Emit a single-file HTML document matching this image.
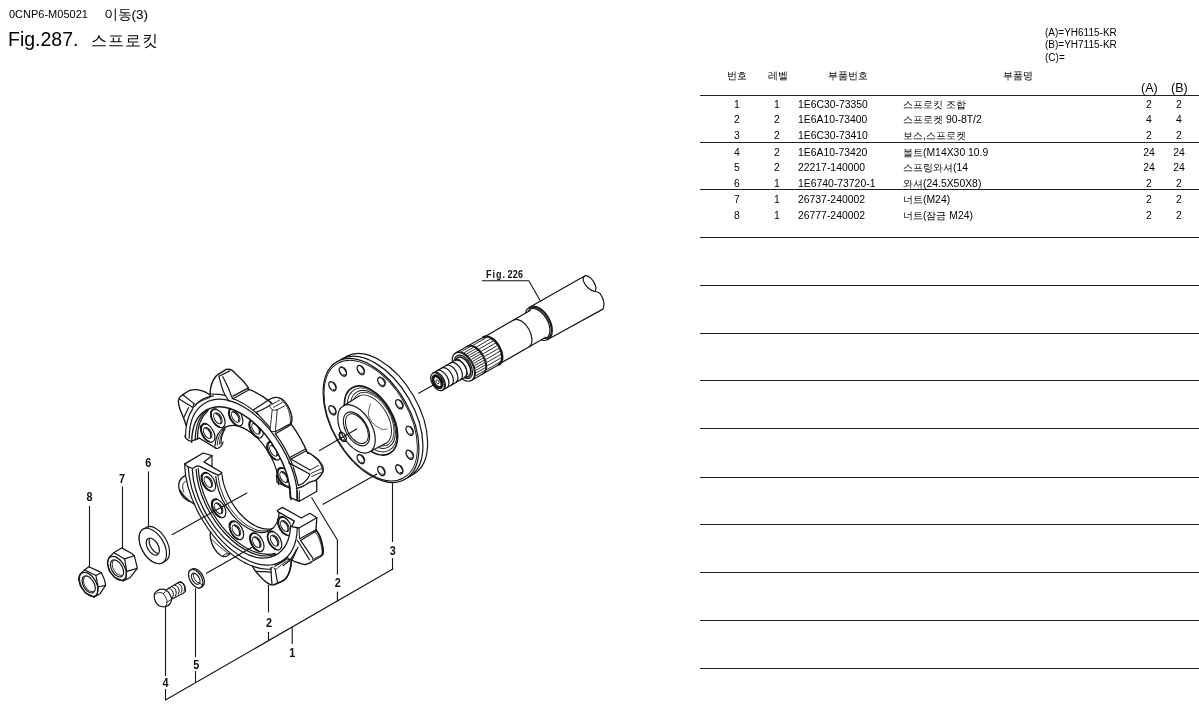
<!DOCTYPE html>
<html lang="ko">
<head>
<meta charset="utf-8">
<title>Fig.287. 스프로킷</title>
<style>
html,body{margin:0;padding:0;background:#fff;}
body{width:1199px;height:710px;position:relative;overflow:hidden;font-family:"Liberation Sans",sans-serif;color:#000;}
.t{position:absolute;white-space:nowrap;line-height:1;}
.hd{font-size:11px;}
.ln{position:absolute;left:700px;width:499px;height:1px;background:#222;}
.r{position:absolute;left:700px;width:499px;height:12px;font-size:10.4px;line-height:12px;}
.r span{position:absolute;top:0;white-space:nowrap;}
.c1{left:27px;width:20px;text-align:center;}
.c2{left:67px;width:20px;text-align:center;}
.c3{left:98px;}
.c4{left:203px;}
.c5{left:434px;width:30px;text-align:center;}
.c6{left:464px;width:30px;text-align:center;}
#dg{position:absolute;left:0;top:0;}
#wrap{position:absolute;left:0;top:0;width:1199px;height:710px;will-change:transform;opacity:0.999;}
</style>
</head>
<body>
<div id="wrap">
<div class="t hd" style="left:9px;top:9px;">0CNP6-M05021</div>
<div class="t" style="left:103.5px;top:7.5px;font-size:13.6px;">이동(3)</div>
<div class="t" style="left:8px;top:30px;font-size:19.5px;">Fig.287.</div>
<div class="t" style="left:91px;top:31.5px;font-size:16.4px;letter-spacing:1.1px;">스프로킷</div>

<div class="t" style="left:1045px;top:28px;font-size:10px;">(A)=YH6115-KR</div>
<div class="t" style="left:1045px;top:40px;font-size:10px;">(B)=YH7115-KR</div>
<div class="t" style="left:1045px;top:53px;font-size:10px;">(C)=</div>

<div class="t" style="left:727px;top:71px;font-size:10px;">번호</div>
<div class="t" style="left:768px;top:71px;font-size:10px;">레벨</div>
<div class="t" style="left:828px;top:71px;font-size:10px;">부품번호</div>
<div class="t" style="left:1003px;top:71px;font-size:10px;">부품명</div>
<div class="t" style="left:1141px;top:82px;font-size:12.5px;">(A)</div>
<div class="t" style="left:1171px;top:82px;font-size:12.5px;">(B)</div>

<div class="ln" style="top:95px;"></div>
<div class="ln" style="top:142px;"></div>
<div class="ln" style="top:189px;"></div>
<div class="ln" style="top:237px;"></div>
<div class="ln" style="top:285px;"></div>
<div class="ln" style="top:333px;"></div>
<div class="ln" style="top:380px;"></div>
<div class="ln" style="top:428px;"></div>
<div class="ln" style="top:477px;"></div>
<div class="ln" style="top:524px;"></div>
<div class="ln" style="top:572px;"></div>
<div class="ln" style="top:620px;"></div>
<div class="ln" style="top:668px;"></div>

<div class="r" style="top:98.7px;"><span class="c1">1</span><span class="c2">1</span><span class="c3">1E6C30-73350</span><span class="c4">스프로킷 조합</span><span class="c5">2</span><span class="c6">2</span></div>
<div class="r" style="top:113.7px;"><span class="c1">2</span><span class="c2">2</span><span class="c3">1E6A10-73400</span><span class="c4">스프로켓 90-8T/2</span><span class="c5">4</span><span class="c6">4</span></div>
<div class="r" style="top:129.7px;"><span class="c1">3</span><span class="c2">2</span><span class="c3">1E6C30-73410</span><span class="c4">보스,스프로켓</span><span class="c5">2</span><span class="c6">2</span></div>
<div class="r" style="top:146.7px;"><span class="c1">4</span><span class="c2">2</span><span class="c3">1E6A10-73420</span><span class="c4">볼트(M14X30 10.9</span><span class="c5">24</span><span class="c6">24</span></div>
<div class="r" style="top:161.7px;"><span class="c1">5</span><span class="c2">2</span><span class="c3">22217-140000</span><span class="c4">스프링와셔(14</span><span class="c5">24</span><span class="c6">24</span></div>
<div class="r" style="top:177.7px;"><span class="c1">6</span><span class="c2">1</span><span class="c3">1E6740-73720-1</span><span class="c4">와셔(24.5X50X8)</span><span class="c5">2</span><span class="c6">2</span></div>
<div class="r" style="top:193.7px;"><span class="c1">7</span><span class="c2">1</span><span class="c3">26737-240002</span><span class="c4">너트(M24)</span><span class="c5">2</span><span class="c6">2</span></div>
<div class="r" style="top:209.7px;"><span class="c1">8</span><span class="c2">1</span><span class="c3">26777-240002</span><span class="c4">너트(잠금 M24)</span><span class="c5">2</span><span class="c6">2</span></div>

<svg id="dg" width="700" height="710" viewBox="0 0 700 710" fill="none" stroke="#151515" stroke-width="1.2" stroke-linecap="round" stroke-linejoin="round">
<!--DIAGRAM-->
<path d="M585.5 275.6 L528.7 307.8 A18.5 10.7 60 0 0 547.2 339.8 L602.9 309.1 C604.5 306.5 605 300 600.3 293.8 C598 292 596 291.5 595 291.5 C592 291 586 288 583.4 281.1 C582.5 278.5 584 276 585.5 275.6Z" fill="#fff"/>
<path d="M585.5 275.6 C589 275.5 594 280 595.8 286.4 C596.2 288.5 595.8 290.5 595 291.5"/>
<path d="M548.9 338.8 A18.5 10.7 60 0 0 530.4 306.8"/>
<path d="M546.4 338.9 A17.5 10.1 60 1 0 529.1 308.9"/>
<path d="M544.1 338.6 A16.5 9.5 60 1 0 528.2 311"/>
<path d="M530.2 310.4 L483.4 337.4 A15.5 8.9 60 0 0 498.9 364.2 L545.7 337.2 A15.5 8.9 60 0 0 530.2 310.4Z" fill="#fff" stroke="none"/>
<path d="M483.4 337.4 L530.2 310.4"/>
<path d="M498.9 364.2 L545.7 337.2"/>
<path d="M529.2 346.7 A15.5 8.9 60 0 0 513.7 319.9"/>
<path d="M483.7 336.9 L455.5 353.1 A15.8 9.1 60 0 0 471.3 380.5 L499.5 364.2 A15.8 9.1 60 0 0 483.7 336.9Z" fill="#fff" stroke="none"/>
<path d="M455.5 353.1 L483.7 336.9"/>
<path d="M471.3 380.5 L499.5 364.2"/>
<path d="M499 364.4 A15.7 9.1 60 0 0 483.3 337.2" stroke-width="2.4"/>
<path d="M483.9 373.2 A15.8 9.1 60 0 0 468.1 345.9"/>
<path d="M482.6 374 A15.8 9.1 60 0 0 466.8 346.6"/>
<path d="M472.6 379.7 A15.8 9.1 60 0 0 456.8 352.4"/>
<path d="M473.4 345.1 L487.2 337.1" stroke-width="0.9"/>
<path d="M476.9 346.7 L490.8 338.7" stroke-width="0.9"/>
<path d="M479.6 348.7 L493.4 340.7" stroke-width="0.9"/>
<path d="M481.8 351 L495.6 343" stroke-width="0.9"/>
<path d="M483.6 353.5 L497.5 345.5" stroke-width="0.9"/>
<path d="M485.1 356.2 L499 348.2" stroke-width="0.9"/>
<path d="M486.4 359.1 L500.2 351.1" stroke-width="0.9"/>
<path d="M487.2 362.2 L501.1 354.2" stroke-width="0.9"/>
<path d="M487.6 365.6 L501.5 357.6" stroke-width="0.9"/>
<path d="M487.1 369.5 L500.9 361.5" stroke-width="0.9"/>
<path d="M461.5 351.5 L470.6 346.3" stroke-width="0.9"/>
<path d="M464.5 352.5 L473.6 347.3" stroke-width="0.9"/>
<path d="M466.7 353.9 L475.8 348.7" stroke-width="0.9"/>
<path d="M468.6 355.5 L477.7 350.3" stroke-width="0.9"/>
<path d="M470.3 357.3 L479.4 352" stroke-width="0.9"/>
<path d="M471.8 359.2 L480.9 353.9" stroke-width="0.9"/>
<path d="M473 361.2 L482.1 355.9" stroke-width="0.9"/>
<path d="M474.1 363.2 L483.2 358" stroke-width="0.9"/>
<path d="M475 365.4 L484.1 360.2" stroke-width="0.9"/>
<path d="M475.7 367.7 L484.8 362.5" stroke-width="0.9"/>
<path d="M476.2 370.2 L485.3 364.9" stroke-width="0.9"/>
<path d="M476.3 372.8 L485.4 367.6" stroke-width="0.9"/>
<path d="M475.8 375.8 L484.9 370.6" stroke-width="0.9"/>
<ellipse cx="463.4" cy="366.8" rx="15.8" ry="9.1" transform="rotate(60 463.4 366.8)" fill="#fff"/>
<ellipse cx="463.4" cy="366.8" rx="12.8" ry="7.4" transform="rotate(60 463.4 366.8)"/>
<ellipse cx="463" cy="367.1" rx="11" ry="6.4" transform="rotate(60 463 367.1)" stroke-width="1.6"/>
<path d="M459.1 359.4 L453.1 362.9 A8.6 5 60 0 0 461.7 377.7 L467.7 374.2 A8.6 5 60 0 0 459.1 359.4Z" fill="#fff" stroke="none"/>
<path d="M453.1 362.9 L459.1 359.4"/>
<path d="M461.7 377.7 L467.7 374.2"/>
<path d="M455.1 360.3 L432.7 373.2 A9.8 5.7 60 0 0 442.5 390.2 L464.9 377.3 A9.8 5.7 60 0 0 455.1 360.3Z" fill="#fff" stroke="none"/>
<path d="M432.7 373.2 L455.1 360.3"/>
<path d="M442.5 390.2 L464.9 377.3"/>
<path d="M464.9 377.3 A9.8 5.7 60 0 0 455.1 360.3"/>
<path d="M446.9 387.7 A9.8 5.7 60 0 0 437.1 370.7" stroke-width="1.2"/>
<path d="M451.4 385.1 A9.8 5.7 60 0 0 441.6 368.1" stroke-width="1.2"/>
<path d="M455.9 382.5 A9.8 5.7 60 0 0 446.1 365.5" stroke-width="1.2"/>
<path d="M460.4 379.9 A9.8 5.7 60 0 0 450.6 362.9" stroke-width="1.2"/>
<path d="M464.9 377.3 A9.8 5.7 60 0 0 455.1 360.3" stroke-width="1.2"/>
<ellipse cx="437.6" cy="381.7" rx="9.8" ry="5.7" transform="rotate(60 437.6 381.7)" fill="#fff"/>
<path d="M443.8 389.4 A9.8 5.7 60 0 0 434 372.5"/>
<ellipse cx="437.5" cy="381.8" rx="6.5" ry="3.8" transform="rotate(60 437.5 381.8)" stroke-width="3"/>
<ellipse cx="437.5" cy="381.8" rx="2.2" ry="1.3" transform="rotate(60 437.5 381.8)" stroke-width="0.8"/>
<path d="M482.3 280.8 L528.8 280.8 L540.4 301" stroke-width="1.1"/>
<path d="M414.3 473.8 A67.8 39.1 60 0 0 346.5 356.4 L337.1 361.8 A67.8 39.1 60 0 0 404.9 479.2Z" fill="#fff"/>
<path d="M409.6 476.5 A67.8 39.1 60 0 0 341.8 359.1"/>
<ellipse cx="371" cy="420.5" rx="67.8" ry="39.1" transform="rotate(60 371 420.5)" fill="#fff"/>
<ellipse cx="370.7" cy="420.6" rx="66" ry="38.1" transform="rotate(60 370.7 420.6)" stroke-width="0.9"/>
<ellipse cx="399.2" cy="469.4" rx="5" ry="2.9" transform="rotate(60 399.2 469.4)" stroke-width="1.4"/>
<path d="M400 472.4 A4.6 2.7 60 0 0 400.6 465.3" stroke-width="0.9"/>
<ellipse cx="409.6" cy="454.7" rx="5" ry="2.9" transform="rotate(60 409.6 454.7)" stroke-width="1.4"/>
<path d="M410.3 457.7 A4.6 2.7 60 0 0 410.9 450.5" stroke-width="0.9"/>
<ellipse cx="409.6" cy="430.8" rx="5" ry="2.9" transform="rotate(60 409.6 430.8)" stroke-width="1.4"/>
<path d="M410.3 433.8 A4.6 2.7 60 0 0 410.9 426.7" stroke-width="0.9"/>
<ellipse cx="399.2" cy="404.2" rx="5" ry="2.9" transform="rotate(60 399.2 404.2)" stroke-width="1.4"/>
<path d="M400 407.2 A4.6 2.7 60 0 0 400.6 400" stroke-width="0.9"/>
<ellipse cx="381.3" cy="381.9" rx="5" ry="2.9" transform="rotate(60 381.3 381.9)" stroke-width="1.4"/>
<path d="M382.1 384.9 A4.6 2.7 60 0 0 382.7 377.7" stroke-width="0.9"/>
<ellipse cx="360.7" cy="370" rx="5" ry="2.9" transform="rotate(60 360.7 370)" stroke-width="1.4"/>
<path d="M361.4 372.9 A4.6 2.7 60 0 0 362 365.8" stroke-width="0.9"/>
<ellipse cx="342.8" cy="371.6" rx="5" ry="2.9" transform="rotate(60 342.8 371.6)" stroke-width="1.4"/>
<path d="M343.5 374.5 A4.6 2.7 60 0 0 344.1 367.4" stroke-width="0.9"/>
<ellipse cx="332.4" cy="386.3" rx="5" ry="2.9" transform="rotate(60 332.4 386.3)" stroke-width="1.4"/>
<path d="M333.2 389.3 A4.6 2.7 60 0 0 333.7 382.1" stroke-width="0.9"/>
<ellipse cx="332.4" cy="410.2" rx="5" ry="2.9" transform="rotate(60 332.4 410.2)" stroke-width="1.4"/>
<path d="M333.2 413.1 A4.6 2.7 60 0 0 333.7 406" stroke-width="0.9"/>
<ellipse cx="342.8" cy="436.8" rx="5" ry="2.9" transform="rotate(60 342.8 436.8)" stroke-width="1.4"/>
<path d="M343.5 439.8 A4.6 2.7 60 0 0 344.1 432.6" stroke-width="0.9"/>
<ellipse cx="360.7" cy="459.1" rx="5" ry="2.9" transform="rotate(60 360.7 459.1)" stroke-width="1.4"/>
<path d="M361.4 462.1 A4.6 2.7 60 0 0 362 454.9" stroke-width="0.9"/>
<ellipse cx="381.3" cy="471" rx="5" ry="2.9" transform="rotate(60 381.3 471)" stroke-width="1.4"/>
<path d="M382.1 474 A4.6 2.7 60 0 0 382.7 466.9" stroke-width="0.9"/>
<ellipse cx="371" cy="420.5" rx="37.8" ry="21.8" transform="rotate(60 371 420.5)" stroke-width="1.6" fill="#fff"/>
<ellipse cx="372" cy="419.9" rx="35" ry="20.2" transform="rotate(60 372 419.9)" stroke-width="0.9"/>
<ellipse cx="372.9" cy="419.4" rx="31.8" ry="18.4" transform="rotate(60 372.9 419.4)" stroke-width="1.0"/>
<ellipse cx="373.3" cy="419.2" rx="29.5" ry="17" transform="rotate(60 373.3 419.2)" stroke-width="0.8"/>
<ellipse cx="372.3" cy="419.8" rx="27.2" ry="15.7" transform="rotate(60 372.3 419.8)" stroke-width="0.9" fill="#fff"/>
<path d="M343.3 405.9 L358.7 396.2 L385.9 443.3 L369.8 451.8Z" fill="#fff" stroke="none"/>
<path d="M343.3 405.9 L358.7 396.2"/>
<path d="M385.9 443.3 L369.8 451.8"/>
<ellipse cx="356.5" cy="428.9" rx="26.5" ry="15.3" transform="rotate(60 356.5 428.9)" stroke-width="1.2" fill="#fff"/>
<ellipse cx="356.5" cy="428.9" rx="18.6" ry="10.7" transform="rotate(60 356.5 428.9)" stroke-width="1.1"/>
<ellipse cx="356.9" cy="428.7" rx="16.2" ry="9.4" transform="rotate(60 356.9 428.7)" stroke-width="1.0"/>
<path d="M370.3 404.2 C370 405.8 368.2 411.1 368.3 413.8 C368.4 416.5 369.8 418.7 370.9 420.6 C372 422.5 372.9 423.6 374.8 425.1 C376.8 426.6 380.7 429 382.7 429.6 C384.8 430.2 386.5 428.7 387.2 428.5" stroke-width="0.7"/>
<ellipse cx="342.8" cy="436.8" rx="5" ry="2.9" transform="rotate(60 342.8 436.8)" stroke-width="1.3"/>
<path d="M341.9 432.7 A4.6 2.7 60 0 0 341.9 440" stroke-width="1.5"/>
<path d="M165.5 561.1 A19.4 11.2 60 0 0 146.1 527.4 L143.1 529.2 A19.4 11.2 60 0 0 162.5 562.8Z" fill="#fff"/>
<ellipse cx="152.8" cy="546" rx="19.4" ry="11.2" transform="rotate(60 152.8 546)" fill="#fff"/>
<ellipse cx="152.8" cy="546.6" rx="9.4" ry="5.4" transform="rotate(60 152.8 546.6)"/>
<path d="M149.6 538.6 A9.4 5.4 60 0 0 158.1 553.4"/>
<path d="M121.6 547.9 L114 552.5 L109.1 557.4 L107.3 562.9 L109.2 570.9 L114.5 577.2 L122.9 580.9 L130.1 577.7 L137.3 568.4 L136.4 564.1 L134.3 555.7 L131.4 553.3Z" fill="#fff"/>
<path d="M114 552.7 L124.6 558.9 L134.3 555.7"/>
<path d="M124.6 558.9 L126.7 571.3 L137.3 568.4"/>
<path d="M126.7 571.3 L125.9 578.5 L122.9 580.9"/>
<ellipse cx="117" cy="568.4" rx="13.2" ry="7.6" transform="rotate(60 117 568.4)"/>
<ellipse cx="117" cy="568.4" rx="9.4" ry="5.4" transform="rotate(60 117 568.4)"/>
<path d="M113.5 560.5 A8.6 5 60 0 0 122.1 575.3" stroke-width="0.9"/>
<path d="M88.8 566.7 L84.5 569.9 L79.8 574.4 L78.5 578.9 L80.2 585.7 L85.3 592.9 L94.2 597.1 L100.1 593.7 L105.6 585.3 L104.7 580.2 L101.4 572.8 L98.4 571.1Z" fill="#fff"/>
<path d="M84.7 570 L95.9 575.5 L101.4 572.8"/>
<path d="M95.9 575.5 L98.1 587 L105.6 585.3"/>
<path d="M98.1 587 L97.1 594.7 L94.2 597.1"/>
<ellipse cx="88.7" cy="584.4" rx="13.2" ry="7.6" transform="rotate(60 88.7 584.4)"/>
<ellipse cx="88.7" cy="584.4" rx="9.4" ry="5.4" transform="rotate(60 88.7 584.4)"/>
<path d="M85.2 576.5 A8.6 5 60 0 0 93.8 591.4" stroke-width="0.9"/>
<path d="M166.7 589.6 L178.5 582.4 L179.8 582.1 L182.5 583 L185.1 586.9 L185.5 591.4 L183.2 593.2 L171.4 599.3" fill="#fff"/>
<path d="M169 588.4 C169.5 588.8 171.5 589.5 172.2 590.5 C172.9 591.6 173.4 593.5 173.4 594.7 C173.4 595.9 172.5 597.2 172.4 597.7" stroke-width="1.0"/>
<path d="M171.9 586.7 C172.4 587.1 174.3 587.8 175.1 588.8 C175.8 589.9 176.2 591.9 176.3 593.1 C176.3 594.2 175.4 595.5 175.2 596" stroke-width="1.0"/>
<path d="M174.7 585 C175.3 585.4 177.2 586.1 178 587.1 C178.7 588.2 179.1 590.2 179.1 591.4 C179.2 592.6 178.3 593.8 178.1 594.3" stroke-width="1.0"/>
<path d="M177.6 583.3 C178.1 583.7 180.1 584.4 180.8 585.4 C181.6 586.5 182 588.5 182 589.7 C182 590.9 181.2 592.1 181 592.6" stroke-width="1.0"/>
<path d="M180.5 581.6 C181 582 183 582.7 183.7 583.8 C184.4 584.8 184.9 586.8 184.9 588 C184.9 589.2 184 590.4 183.9 590.9" stroke-width="1.0"/>
<path d="M154.5 593.8 C154.9 592.5 155.9 591.6 157 590.9 C158.1 590.1 159.7 589.3 161.2 589.2 C162.8 589.1 164.8 589.3 166.3 590.3 C167.8 591.2 169.5 593.5 170.3 595.1 C171.2 596.7 171.6 598.3 171.5 599.7 C171.4 601.2 170.8 602.8 169.8 604 C168.9 605.1 167.3 606.1 165.9 606.5 C164.4 606.9 162.7 606.9 161.2 606.5 C159.7 606.1 158.1 605.2 157 604 C155.9 602.7 154.9 600.6 154.5 598.9 C154 597.2 154 595.2 154.5 593.8Z" fill="#fff"/>
<path d="M154.9 594.7 C155.5 594.3 157.3 592.7 158.7 592.5 C160.1 592.4 162 592.6 163.3 593.8 C164.7 595 166.1 598 166.7 599.7 C167.3 601.4 166.9 602.9 166.7 604 C166.5 605.1 165.8 605.9 165.6 606.3" stroke-width="0.9"/>
<path d="M163.3 593.8 L166.3 590.4" stroke-width="0.9"/>
<path d="M166.7 602.3 L171.2 599.7" stroke-width="0.9"/>
<path d="M202.7 586.4 A10.2 5.9 60 0 0 192.5 568.8 L190.6 569.9 A10.2 5.9 60 0 0 200.8 587.5Z" fill="#fff"/>
<ellipse cx="195.7" cy="578.7" rx="10.2" ry="5.9" transform="rotate(60 195.7 578.7)" fill="#fff"/>
<ellipse cx="195.7" cy="578.7" rx="6" ry="3.5" transform="rotate(60 195.7 578.7)"/>
<path d="M193.8 573.3 A6 3.5 60 0 0 199.4 583.1" stroke-width="0.9"/>
<path d="M199.5 583 L202.6 585.1" stroke-width="0.9"/>
<ellipse cx="284.1" cy="477" rx="10.3" ry="5.9" transform="rotate(60 284.1 477)" stroke-width="1.2" fill="#fff"/>
<path d="M282.4 468.3 A9.8 5.7 60 0 0 285.9 485.8" stroke-width="1.6"/>
<ellipse cx="284.1" cy="477" rx="6" ry="3.5" transform="rotate(60 284.1 477)" stroke-width="1.0"/>
<path d="M287.1 481.6 A5.8 3.3 60 0 0 282.3 472.3" stroke-width="1.3"/>
<ellipse cx="273.9" cy="450.6" rx="10.3" ry="5.9" transform="rotate(60 273.9 450.6)" stroke-width="1.2" fill="#fff"/>
<path d="M272.1 441.9 A9.8 5.7 60 0 0 275.7 459.4" stroke-width="1.6"/>
<ellipse cx="273.9" cy="450.6" rx="6" ry="3.5" transform="rotate(60 273.9 450.6)" stroke-width="1.0"/>
<path d="M276.8 455.2 A5.8 3.3 60 0 0 272.1 445.9" stroke-width="1.3"/>
<ellipse cx="256.1" cy="428.6" rx="10.3" ry="5.9" transform="rotate(60 256.1 428.6)" stroke-width="1.2" fill="#fff"/>
<path d="M254.4 419.8 A9.8 5.7 60 0 0 257.9 437.3" stroke-width="1.6"/>
<ellipse cx="256.1" cy="428.6" rx="6" ry="3.5" transform="rotate(60 256.1 428.6)" stroke-width="1.0"/>
<path d="M259.1 433.1 A5.8 3.3 60 0 0 254.3 423.8" stroke-width="1.3"/>
<ellipse cx="235.7" cy="416.7" rx="10.3" ry="5.9" transform="rotate(60 235.7 416.7)" stroke-width="1.2" fill="#fff"/>
<path d="M233.9 408 A9.8 5.7 60 0 0 237.4 425.5" stroke-width="1.6"/>
<ellipse cx="235.7" cy="416.7" rx="6" ry="3.5" transform="rotate(60 235.7 416.7)" stroke-width="1.0"/>
<path d="M238.6 421.3 A5.8 3.3 60 0 0 233.8 412" stroke-width="1.3"/>
<ellipse cx="217.9" cy="418.3" rx="10.3" ry="5.9" transform="rotate(60 217.9 418.3)" stroke-width="1.2" fill="#fff"/>
<path d="M216.1 409.5 A9.8 5.7 60 0 0 219.7 427.1" stroke-width="1.6"/>
<ellipse cx="217.9" cy="418.3" rx="6" ry="3.5" transform="rotate(60 217.9 418.3)" stroke-width="1.0"/>
<path d="M220.8 422.9 A5.8 3.3 60 0 0 216.1 413.6" stroke-width="1.3"/>
<ellipse cx="207.7" cy="432.9" rx="10.3" ry="5.9" transform="rotate(60 207.7 432.9)" stroke-width="1.2" fill="#fff"/>
<path d="M205.9 424.1 A9.8 5.7 60 0 0 209.4 441.6" stroke-width="1.6"/>
<ellipse cx="207.7" cy="432.9" rx="6" ry="3.5" transform="rotate(60 207.7 432.9)" stroke-width="1.0"/>
<path d="M210.6 437.5 A5.8 3.3 60 0 0 205.8 428.1" stroke-width="1.3"/>
<path d="M278.6 484.7 A45 26 60 0 0 215 446"/>
<path d="M300.5 503 A81.3 46.9 60 0 0 185.5 436.6 L191.7 442.2 A70.1 40.5 60 0 1 290.9 499.5Z" fill="#fff" stroke="none"/>
<path d="M207.7 409.8 A68.5 39.5 60 0 0 195.3 440.1"/>
<path d="M208.1 410.5 A68 39.3 60 0 0 197.4 439.3"/>
<path d="M290.9 499.5 A70.1 40.5 60 0 0 191.7 442.2" stroke-width="1.4"/>
<path d="M297.8 500.9 A76.8 44.3 60 0 0 189.2 438.2"/>
<path d="M192.8 408.6 A81.3 46.9 60 0 0 185.5 436.6"/>
<path d="M213.4 395.8 A81.3 46.9 60 0 0 194.3 406.5"/>
<path d="M257.9 414.3 A81.3 46.9 60 0 0 232.1 398.3"/>
<path d="M292.8 465.4 A81.3 46.9 60 0 0 275.2 433.4"/>
<path d="M272 403.4 A81.3 46.9 60 0 0 248.1 389.1" stroke-width="1.4"/>
<path d="M307.8 453.6 A81.3 46.9 60 0 0 291.2 424.1" stroke-width="1.4"/>
<path d="M186.1 425.2 C185.7 424 184.7 420.9 183.6 418.1 C182.6 415.2 180.6 411 179.7 408.2 C178.9 405.4 178.3 403.1 178.3 401.3 C178.3 399.5 179 398.5 179.7 397.4 C180.5 396.3 182.3 395.1 182.8 394.7" stroke-width="1.4"/>
<path d="M182.8 394.7 C184 394 187.6 391.3 189.8 390.4 C192 389.6 193.8 389.5 196 389.6 C198.2 389.8 200.6 390.4 203 391.2 C205.3 392 208.8 394.1 209.9 394.7" stroke-width="1.4"/>
<path d="M182.8 394.7 L194.1 403.6"/>
<path d="M179.7 399.3 L192.9 407.5"/>
<path d="M194.1 403.6 L192.9 407.5"/>
<path d="M188.6 407.5 L183.6 418.1"/>
<path d="M195.2 404.5 C196.5 403.8 200.5 401.5 203 400.3 C205.4 399.2 208.8 398 209.9 397.5" stroke-width="0.9"/>
<path d="M210.1 396.5 C210.1 395.2 210.1 391.5 210.5 389.1 C210.8 386.7 211.5 384.2 212.4 382.1 C213.2 380.1 214.5 378 215.5 376.7 C216.5 375.4 217.7 374.8 218.2 374.4" stroke-width="1.4"/>
<path d="M218.2 374.4 L226.3 369.4" stroke-width="1.4"/>
<path d="M226.3 369.4 C227.1 369.4 229.3 368.9 231 369.7 C232.6 370.6 234.5 372.6 236.4 374.4 C238.3 376.2 240.9 378.8 242.6 380.6 C244.3 382.4 245.5 384 246.5 385.2 C247.4 386.5 248.1 387.5 248.4 387.9" stroke-width="1.4"/>
<path d="M219 376.3 L229.8 370.9"/>
<path d="M219 376.7 C219.5 378.6 221.2 385 222.2 388 C223.2 391 223.8 392.6 224.9 394.8 C226.1 397 228.3 400.1 229 401.2"/>
<path d="M222.8 376.7 C223.8 378.6 226.9 384.7 228.3 388 C229.8 391.3 230.7 394.7 231.6 396.5 C232.5 398.4 233.3 398.8 233.7 399.2"/>
<path d="M210.5 394 C211.8 394 216.1 394.1 218.5 394.3 C220.9 394.5 223.9 395.1 224.9 395.3"/>
<path d="M248.4 387.9 L233 396.1"/>
<path d="M249.5 389.5 L234.3 398.1"/>
<path d="M269 399.7 C269.5 399.4 270.9 398.4 272.2 398.1 C273.4 397.7 275.1 397.3 276.6 397.4 C278.1 397.5 279.6 397.9 281.1 398.7 C282.5 399.5 284.1 400.8 285.5 402.5 C286.9 404.2 288.3 406.7 289.3 408.8 C290.3 411 291.1 413.4 291.5 415.2 C292 417 292 418.2 292 419.6 C291.9 421 291.3 422.8 291.2 423.4" stroke-width="1.4"/>
<path d="M281.1 399.7 C281.8 400.4 284.2 402.6 285.5 404.4 C286.8 406.3 287.9 408.5 288.7 410.7 C289.4 413 289.9 415.7 290.2 417.7 C290.5 419.7 290.4 421.9 290.4 422.8" stroke-width="0.9"/>
<path d="M269 399.7 L253.5 409.8"/>
<path d="M269.6 405.4 C269 405.7 268.1 406.5 265.8 407.7 C263.6 408.9 257.9 411.6 256.3 412.3"/>
<path d="M271.5 404.7 L279.8 400" stroke-width="0.9"/>
<path d="M273.4 407.3 L282.3 402.5" stroke-width="0.9"/>
<path d="M277.2 409.8 L284.5 406" stroke-width="0.9"/>
<path d="M270.9 403.9 C270.7 404.1 269.6 404.5 269.6 405.4 C269.7 406.2 270.5 408.1 271.2 408.8 C272 409.6 273.1 410 274.1 410.1 C275.1 410.3 276.7 409.8 277.2 409.8" stroke-width="0.9"/>
<path d="M272.2 410.1 C272 411.7 271.5 416.6 271.2 419.6 C270.9 422.7 270.2 426.5 270.3 428.5 C270.3 430.5 271.3 431.2 271.5 431.8" stroke-width="0.9"/>
<path d="M277.2 410.1 C277.1 411.9 276.6 417.3 276.3 420.9 C276 424.5 275.5 430 275.3 431.8" stroke-width="0.9"/>
<path d="M271.5 431.4 L275.3 431.7" stroke-width="0.9"/>
<path d="M291.2 423.4 L275.3 431.8"/>
<path d="M290.6 425 L276 433.6"/>
<path d="M256.3 412.3 L270.3 427.9"/>
<path d="M306.8 450.5 L291 459"/>
<path d="M304.9 449.3 L289.4 457.7"/>
<path d="M308.3 452.6 C308.9 453 310.5 453.8 312.2 455 C313.9 456.2 316.9 458.3 318.6 460.1 C320.2 461.9 321.6 464.1 322.4 465.8 C323.2 467.5 323.4 468.8 323.3 470.2 C323.2 471.6 322.9 472.3 321.7 474 C320.5 475.7 317 479.3 316 480.3" stroke-width="1.4"/>
<path d="M313.5 456.3 C314.3 457.1 317.2 459.5 318.6 461.3 C319.9 463.1 321.1 465.5 321.7 467 C322.4 468.6 322.3 470.2 322.4 470.8" stroke-width="0.9"/>
<path d="M309.7 470.2 L318.6 465.5" stroke-width="0.9"/>
<path d="M311 473.4 L321.7 468.6" stroke-width="0.9"/>
<path d="M311.6 476.5 L322.4 471.8" stroke-width="0.9"/>
<path d="M291.6 459.4 L310 469.9"/>
<path d="M288.8 462.9 L309.7 474"/>
<path d="M293.2 467 C293.7 468.6 295.2 473.5 296.1 476.5 C296.9 479.6 297.9 483.9 298.3 485.4"/>
<path d="M298.3 485.4 C299.1 485 301.8 484 303.3 482.9 C304.9 481.7 306.7 479.8 307.8 478.4 C308.8 477.1 309.4 475.3 309.7 474.6"/>
<path d="M296.4 488.6 C297.5 488.2 301.1 487.1 303.3 486.1 C305.6 485 307.6 483.2 309.7 482.2 C311.8 481.3 315 480.7 316 480.3" stroke-width="1.3"/>
<path d="M316 480.3 L316.7 481.6 L316.8 491.2" stroke-width="1.3"/>
<path d="M316.5 491.5 L299.4 501.3 L290.1 497.7 L289.5 486.4" stroke-width="1.3"/>
<path d="M296.7 490.3 L296.7 500.2" stroke-width="0.9"/>
<path d="M299.4 490.9 L299.4 501.3" stroke-width="0.9"/>
<path d="M276.4 475.3 L277 482.1 L289.5 488.1" stroke-width="1.2"/>
<path d="M184.8 435.9 C185.1 436.4 185.7 438.1 186.7 439 C187.7 439.9 189.2 441.1 190.6 441.2 C192 441.3 193.7 440.1 195.2 439.6 C196.7 439.1 198.8 438.5 199.5 438.2" stroke-width="1.3"/>
<path d="M199.5 438.2 L215.4 447.9" stroke-width="1.3"/>
<path d="M215.4 447.9 C215.7 448 216.6 448.8 217.7 448.4 C218.7 448.1 220.6 446.6 221.5 445.6 C222.5 444.5 222.8 442.7 223.1 442.1" stroke-width="1.2"/>
<path d="M224.2 428.5 A44.3 25.6 60 0 0 217.2 445.3" stroke-width="0.9"/>
<path d="M225 428.5 A44.3 25.6 60 0 0 219.4 444.1" stroke-width="0.9"/>
<path d="M225 428.9 A45 26 60 0 0 221 443.8" stroke-width="1.2"/>
<path d="M185.3 475.5 C184.5 476.1 181.9 477.5 180.8 479 C179.7 480.5 178.9 482.3 178.7 484.4 C178.6 486.5 179 489.2 179.9 491.4 C180.7 493.5 182.2 495.9 183.7 497.5 C185.3 499.2 188.3 500.8 189.2 501.4" stroke-width="1.3"/>
<path d="M186.8 480.5 C186.3 480.9 184.5 481.8 183.7 482.8 C183 483.9 182.6 485.2 182.6 486.7 C182.6 488.3 183.5 491.2 183.7 492.1" stroke-width="0.9"/>
<path d="M179.7 490 C180.4 490.9 182.2 493.7 183.6 495.4 C185 497.1 186.7 498.8 188.3 500.1 C189.8 501.4 191.9 502.5 192.9 503.2 C193.9 503.9 194.2 504.1 194.5 504.3" stroke-width="1.3"/>
<path d="M210.7 531.6 C210.6 532.3 210 533.7 210.2 535.5 C210.3 537.3 210.6 540 211.5 542.5 C212.3 544.9 213.9 548.1 215.4 550.2 C216.8 552.3 218.8 553.8 220 554.8 C221.2 555.9 221.5 556.2 222.7 556.4 C223.9 556.6 225.7 556.4 227 556 C228.2 555.6 229.5 554.2 230.1 553.8" stroke-width="1.3"/>
<path d="M211.5 539.4 C212.8 540.5 216.6 544.1 219.2 546.3 C221.8 548.5 225.3 551.2 227 552.5 C228.7 553.8 229 553.8 229.4 554.1" stroke-width="0.9"/>
<path d="M222.7 556.4 C223 556 223.5 554.6 224.6 554.2 C225.7 553.8 228.5 553.9 229.3 553.8" stroke-width="0.9"/>
<path d="M221.9 474.3 A45 26 60 0 0 272.7 528.5" stroke-width="1.2"/>
<path d="M218 476.4 A44.3 25.6 60 0 0 269.7 529.8" stroke-width="0.9"/>
<path d="M215.8 476.5 A45 26 60 0 0 279.3 511.2" stroke-width="1.2"/>
<ellipse cx="208.4" cy="481.9" rx="10.3" ry="5.9" transform="rotate(60 208.4 481.9)" stroke-width="1.2" fill="#fff"/>
<path d="M206.6 473.1 A9.8 5.7 60 0 0 210.1 490.6" stroke-width="1.6"/>
<ellipse cx="208.4" cy="481.9" rx="6" ry="3.5" transform="rotate(60 208.4 481.9)" stroke-width="1.0"/>
<path d="M211.3 486.4 A5.8 3.3 60 0 0 206.5 477.1" stroke-width="1.3"/>
<ellipse cx="218.6" cy="508.3" rx="10.3" ry="5.9" transform="rotate(60 218.6 508.3)" stroke-width="1.2" fill="#fff"/>
<path d="M216.8 499.5 A9.8 5.7 60 0 0 220.4 517" stroke-width="1.6"/>
<ellipse cx="218.6" cy="508.3" rx="6" ry="3.5" transform="rotate(60 218.6 508.3)" stroke-width="1.0"/>
<path d="M221.5 512.9 A5.8 3.3 60 0 0 216.8 503.5" stroke-width="1.3"/>
<ellipse cx="236.4" cy="530.3" rx="10.3" ry="5.9" transform="rotate(60 236.4 530.3)" stroke-width="1.2" fill="#fff"/>
<path d="M234.6 521.6 A9.8 5.7 60 0 0 238.1 539.1" stroke-width="1.6"/>
<ellipse cx="236.4" cy="530.3" rx="6" ry="3.5" transform="rotate(60 236.4 530.3)" stroke-width="1.0"/>
<path d="M239.3 534.9 A5.8 3.3 60 0 0 234.5 525.6" stroke-width="1.3"/>
<ellipse cx="256.8" cy="542.2" rx="10.3" ry="5.9" transform="rotate(60 256.8 542.2)" stroke-width="1.2" fill="#fff"/>
<path d="M255.1 533.4 A9.8 5.7 60 0 0 258.6 550.9" stroke-width="1.6"/>
<ellipse cx="256.8" cy="542.2" rx="6" ry="3.5" transform="rotate(60 256.8 542.2)" stroke-width="1.0"/>
<path d="M259.8 546.8 A5.8 3.3 60 0 0 255 537.4" stroke-width="1.3"/>
<ellipse cx="274.6" cy="540.6" rx="10.3" ry="5.9" transform="rotate(60 274.6 540.6)" stroke-width="1.2" fill="#fff"/>
<path d="M272.8 531.8 A9.8 5.7 60 0 0 276.4 549.4" stroke-width="1.6"/>
<ellipse cx="274.6" cy="540.6" rx="6" ry="3.5" transform="rotate(60 274.6 540.6)" stroke-width="1.0"/>
<path d="M277.5 545.2 A5.8 3.3 60 0 0 272.8 535.9" stroke-width="1.3"/>
<ellipse cx="284.8" cy="526" rx="10.3" ry="5.9" transform="rotate(60 284.8 526)" stroke-width="1.2" fill="#fff"/>
<path d="M283.1 517.3 A9.8 5.7 60 0 0 286.6 534.8" stroke-width="1.6"/>
<ellipse cx="284.8" cy="526" rx="6" ry="3.5" transform="rotate(60 284.8 526)" stroke-width="1.0"/>
<path d="M287.8 530.6 A5.8 3.3 60 0 0 283 521.3" stroke-width="1.3"/>
<path d="M281 566.6 A81.8 47.2 60 0 0 300.1 528 L290.6 523.5 A69.6 40.2 60 0 1 274.3 556.3Z" fill="#fff" stroke="none"/>
<path d="M198.2 468.5 A68 39.3 60 0 0 275.1 553.4"/>
<path d="M196.1 469.4 A68.5 39.5 60 0 0 275.6 554.2"/>
<path d="M192.3 469.7 A69.6 40.2 60 0 0 290.6 525.5" stroke-width="1.3"/>
<path d="M188.1 465.6 A77.3 44.6 60 0 0 297.3 528.1"/>
<path d="M184.5 463.6 A81.8 47.2 60 0 0 245.3 563"/>
<path d="M245.3 563 A81.8 47.2 60 0 0 271.2 569.1"/>
<path d="M283.2 565.4 A81.8 47.2 60 0 0 296.3 549.7"/>
<path d="M184.9 463.9 L203.1 453 L212 455.7 L203.9 461.9 L222.1 472.8 L218.4 475.3 L199.2 466.2 L196.5 466 L192.6 468.5 L187.6 466.6 L184.9 463.9" stroke-width="1.3" fill="#fff"/>
<path d="M212 455.7 L212 466.4" stroke-width="1.2"/>
<path d="M252.4 565.9 C252.8 566.6 253.5 568.6 254.7 570.2 C255.9 571.8 257.7 573.8 259.4 575.6 C261 577.4 263.1 579.6 264.8 581 C266.5 582.5 268 583.5 269.4 584.1 C270.8 584.8 272 585 273.3 584.9 C274.6 584.8 275.5 584.1 277.2 583.4 C278.8 582.6 281.7 581.4 283.4 580.3 C285 579.1 286.2 577.9 287.2 576.4 C288.3 574.8 288.9 573.2 289.5 571 C290.2 568.8 290.8 564.9 291.1 563.2 C291.4 561.5 291.4 561.3 291.5 560.9" stroke-width="1.4"/>
<path d="M256.6 571.4 C257.7 571.4 260.8 571.6 263.2 571.7 C265.6 571.9 269.7 572.1 271 572.1"/>
<path d="M271 567.9 C271 569.4 271.2 574.4 271.4 577.2 C271.5 579.9 272 583.1 272.1 584.3"/>
<path d="M275.2 569 C275.4 570.3 276 574 276.4 576.4 C276.8 578.7 277.4 582 277.5 583.1"/>
<path d="M271 567.9 L272.5 567.1 L275.2 569" stroke-width="0.9"/>
<path d="M274.8 566.3 C276.3 565.5 281.2 562.8 283.4 561.3 C285.5 559.8 287.2 558.1 288 557.4"/>
<path d="M276.4 569 C278.1 567.7 284 562.5 286.5 561.3 C288.9 560.1 290.3 561.9 291.1 562.1" stroke-width="0.9"/>
<path d="M277.3 510.5 L282.4 507.4 L301.3 518 L309.8 513.3 L316.8 517.7 L299 528 L291.6 526.7 L294.4 521.1 L277.7 511.6" stroke-width="1.3" fill="#fff"/>
<path d="M316.8 517.7 L316 529.8" stroke-width="1.3"/>
<path d="M299 528 L299.5 538.7" stroke-width="1.0"/>
<path d="M316 529.8 L299.8 538.7"/>
<path d="M315.4 531.6 L300.5 540.4"/>
<path d="M316 529.8 C316.5 530.6 318.2 532.8 319.1 534.8 C320 536.8 320.9 539.4 321.5 541.8 C322 544.3 322.4 547.4 322.6 549.5 C322.8 551.7 322.8 554.1 322.8 555" stroke-width="1.4"/>
<path d="M316 530 C316.7 531 318.9 533.9 319.9 536.2 C320.9 538.5 321.6 541.5 322.2 543.9 C322.8 546.4 323.4 549.1 323.4 550.9 C323.4 552.7 322.7 553.9 322.2 554.8 C321.8 555.7 320.9 556.1 320.7 556.3" stroke-width="1.4"/>
<path d="M314.9 531.5 C315.5 532.5 317.3 534.8 318.4 537 C319.4 539.2 320.4 542.3 321.1 544.7 C321.7 547.2 322.2 550 322.2 551.7 C322.3 553.4 321.6 554.3 321.5 554.8" stroke-width="0.9"/>
<path d="M321.1 555.2 L312.2 559.8" stroke-width="0.9"/>
<path d="M320.5 556.7 L311 562.1" stroke-width="1.2"/>
<path d="M311 562.5 C310.2 562.8 307.8 564.3 306 564.5 C304.1 564.6 301.7 563.8 299.8 563.3 C297.8 562.8 295.8 561.9 294.4 561.4 C292.9 560.8 292.4 560.2 291.3 559.8 C290.2 559.4 288.4 559.2 287.8 559" stroke-width="1.4"/>
<path d="M297.5 540.5 L309.5 559.8"/>
<path d="M300.9 540.8 L312.9 558.3"/>
<path d="M298 547.2 L292.2 559.8"/>
<path d="M291.3 560.2 C291.2 561.2 291.3 564.2 290.9 566.4 C290.5 568.6 289.9 571.2 288.9 573.4 C288 575.5 287 577.9 285.1 579.5 C283.1 581.2 279 582.6 277.3 583.4 C275.6 584.2 275.4 584.2 275 584.3" stroke-width="1.3"/>
<path d="M286.6 558.6 L275 564.5" stroke-width="0.9"/>
<path d="M165.9 699.7 L392.8 569.1" stroke-width="1.1"/>
<path d="M165.5 606 L165.5 675.5" stroke-width="1.1"/>
<path d="M165.5 689.5 L165.5 699.9" stroke-width="1.1"/>
<path d="M195.5 588.7 L195.5 656.5" stroke-width="1.1"/>
<path d="M195.5 671.5 L195.5 682.6" stroke-width="1.1"/>
<path d="M292.2 627 L292.2 643.5" stroke-width="1.1"/>
<path d="M268.5 585.3 L268.5 611.9" stroke-width="1.1"/>
<path d="M268.5 632.2 L268.5 640.7" stroke-width="1.1"/>
<path d="M311.7 497.8 L337.4 540 L337.4 574" stroke-width="1.1"/>
<path d="M337.4 592 L337.4 601" stroke-width="1.1"/>
<path d="M392.5 483.5 L392.5 541.5" stroke-width="1.1"/>
<path d="M392.5 558.5 L392.5 569.3" stroke-width="1.1"/>
<path d="M148.5 471.7 L148.5 527.4" stroke-width="1.1"/>
<path d="M122.5 486.9 L122.5 547.7" stroke-width="1.1"/>
<path d="M89.5 506.4 L89.5 566.7" stroke-width="1.1"/>
<path d="M433.3 385 L418.6 393.2" stroke-width="1.1"/>
<path d="M356.7 428.9 L319.5 450.4" stroke-width="1.1"/>
<path d="M172.4 534.4 L246.9 493" stroke-width="1.1"/>
<path d="M206.4 573.3 L253.4 546.4" stroke-width="1.1"/>
<path d="M323.1 504.3 L377 474" stroke-width="1.1"/>
<text transform="translate(148.2 466.8) scale(0.8 1)" font-size="13.5" font-family="Liberation Sans, sans-serif" font-weight="bold" fill="#111" stroke="none" text-anchor="middle">6</text>
<text transform="translate(122.1 482.8) scale(0.8 1)" font-size="13.5" font-family="Liberation Sans, sans-serif" font-weight="bold" fill="#111" stroke="none" text-anchor="middle">7</text>
<text transform="translate(89.4 501) scale(0.8 1)" font-size="13.5" font-family="Liberation Sans, sans-serif" font-weight="bold" fill="#111" stroke="none" text-anchor="middle">8</text>
<text transform="translate(165.6 687.3) scale(0.8 1)" font-size="13.5" font-family="Liberation Sans, sans-serif" font-weight="bold" fill="#111" stroke="none" text-anchor="middle">4</text>
<text transform="translate(196.3 668.8) scale(0.8 1)" font-size="13.5" font-family="Liberation Sans, sans-serif" font-weight="bold" fill="#111" stroke="none" text-anchor="middle">5</text>
<text transform="translate(292.2 656.5) scale(0.8 1)" font-size="13.5" font-family="Liberation Sans, sans-serif" font-weight="bold" fill="#111" stroke="none" text-anchor="middle">1</text>
<text transform="translate(268.9 626.8) scale(0.8 1)" font-size="13.5" font-family="Liberation Sans, sans-serif" font-weight="bold" fill="#111" stroke="none" text-anchor="middle">2</text>
<text transform="translate(337.8 586.8) scale(0.8 1)" font-size="13.5" font-family="Liberation Sans, sans-serif" font-weight="bold" fill="#111" stroke="none" text-anchor="middle">2</text>
<text transform="translate(392.8 554.5) scale(0.8 1)" font-size="13.5" font-family="Liberation Sans, sans-serif" font-weight="bold" fill="#111" stroke="none" text-anchor="middle">3</text>
<text transform="translate(486.1 277.8) scale(0.82 1)" font-size="11" font-family="Liberation Sans, sans-serif" font-weight="bold" fill="#111" stroke="none" letter-spacing="1.2">Fig.</text>
<text transform="translate(507.6 277.8) scale(0.82 1)" font-size="11" font-family="Liberation Sans, sans-serif" font-weight="bold" fill="#111" stroke="none" letter-spacing="0.3">226</text>
<!--/DIAGRAM-->
</svg>
</div>
</body>
</html>
